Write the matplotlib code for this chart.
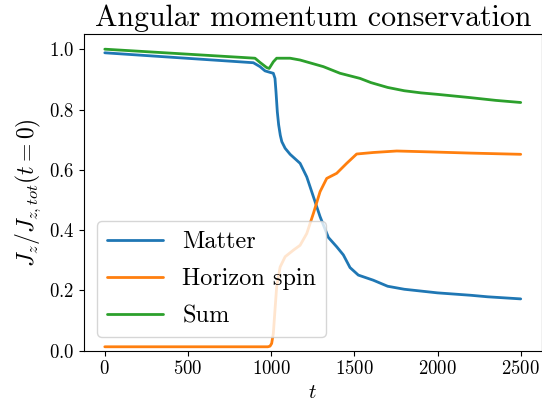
import matplotlib
matplotlib.use("Agg")
import matplotlib.pyplot as plt

plt.rcParams["font.family"] = "serif"
plt.rcParams["font.serif"] = ["cmr10", "DejaVu Serif"]
plt.rcParams["mathtext.fontset"] = "cm"
plt.rcParams["axes.formatter.use_mathtext"] = True

# Angular momentum in matter, normalised to the initial total
t_matter = [0, 813, 893, 933, 963, 993, 1013, 1023, 1029, 1037, 1045, 1055, 1064, 1084,
            1114, 1174, 1214, 1254, 1294, 1344, 1394, 1434, 1474, 1524, 1614, 1700,
            1800, 2000, 2200, 2300, 2500]
matter = [0.989, 0.959, 0.956, 0.943, 0.929, 0.924, 0.921, 0.904, 0.860, 0.793, 0.750,
          0.715, 0.694, 0.672, 0.652, 0.622, 0.577, 0.511, 0.445, 0.376, 0.345, 0.318,
          0.276, 0.251, 0.234, 0.214, 0.204, 0.192, 0.184, 0.179, 0.172]

# Black hole horizon spin
t_horizon = [0, 980, 993, 1003, 1013, 1023, 1033, 1054, 1084, 1134, 1174, 1214, 1254,
             1294, 1334, 1394, 1454, 1514, 1614, 1755, 1955, 2200, 2500]
horizon = [0.013, 0.013, 0.015, 0.024, 0.057, 0.135, 0.212, 0.278, 0.312, 0.334, 0.350,
           0.389, 0.456, 0.528, 0.572, 0.589, 0.622, 0.653, 0.658, 0.663, 0.660, 0.656,
           0.652]

# Matter + horizon
t_sum = [0, 813, 903, 933, 973, 988, 1013, 1033, 1114, 1174, 1314, 1414, 1534, 1600,
         1700, 1800, 1900, 2000, 2200, 2350, 2500]
total = [1.001, 0.974, 0.971, 0.957, 0.940, 0.937, 0.959, 0.971, 0.971, 0.965, 0.943,
         0.921, 0.904, 0.890, 0.874, 0.863, 0.856, 0.851, 0.840, 0.831, 0.824]

W, H = 542, 403
fig = plt.figure(figsize=(W / 100, H / 100), dpi=100)
ax = fig.add_axes([84 / W, (H - 350.7) / H, 457.5 / W, 316.4 / H])

kw = dict(lw=2, solid_joinstyle="round", solid_capstyle="round")
ax.plot(t_matter, matter, color="#1f77b4", label="Matter", **kw)
ax.plot(t_horizon, horizon, color="#ff7f0e", label="Horizon spin", **kw)
ax.plot(t_sum, total, color="#2ca02c", label="Sum", **kw)

ax.set_ylim(bottom=0)
ax.set_title("Angular momentum conservation", fontsize=21.5)
ax.set_xlabel("$t$", fontsize=15)
ax.set_ylabel("$J_z/J_{z,tot}(t=0)$", fontsize=17)
ax.tick_params(labelsize=13.5)
ax.legend(loc="lower left", fontsize=17.5, handlelength=2.3, labelspacing=0.62,
          borderaxespad=0.55)

fig.savefig("out.png", dpi=100)
